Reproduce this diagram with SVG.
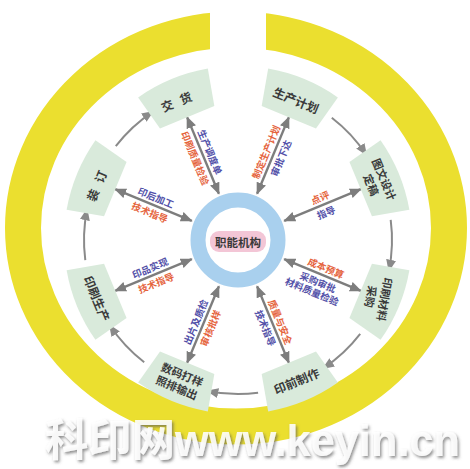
<svg xmlns="http://www.w3.org/2000/svg" xmlns:xlink="http://www.w3.org/1999/xlink" width="470" height="469" viewBox="0 0 470 469">
  <style>
    .node { fill: #d9eadb; }
    .nt { font-family: "Noto Sans CJK SC", "DejaVu Sans", sans-serif; font-size: 12px; font-weight: bold; fill: #3a3a3a; text-anchor: middle; dominant-baseline: central; }
    .nt2 { font-size: 11px; }
    .lbl { font-family: "Noto Sans CJK SC", sans-serif; font-size: 9.5px; font-weight: bold; text-anchor: middle; dominant-baseline: central; }
    .r { fill: #e5643d; }
    .b { fill: #5250a8; }
    .spoke { fill: none; stroke: #7d7d7d; stroke-width: 2.4; marker-start: url(#ah); marker-end: url(#ah); }
    .flow { fill: none; stroke: #8a8a8a; stroke-width: 2; marker-end: url(#ah2); }
    .wm { font-family: "Liberation Sans", "Noto Sans CJK SC", sans-serif; font-size: 44px; font-weight: bold; }
  </style>
  <defs>
    <marker id="ah" markerUnits="userSpaceOnUse" markerWidth="12" markerHeight="10" refX="11" refY="5" orient="auto-start-reverse">
      <path d="M0,0 L12,5 L0,10 Z" fill="#7d7d7d"/>
    </marker>
    <marker id="ah2" markerUnits="userSpaceOnUse" markerWidth="12" markerHeight="10" refX="11" refY="5" orient="auto">
      <path d="M0,0 L12,5 L0,10 Z" fill="#8a8a8a"/>
    </marker>
    <path id="ns" d="M200.3,70.1 A174,174 0 0 1 275.7,70.1 L267.4,107.2 L208.6,107.2 Z"/>
    <filter id="shadow" x="-10%" y="-30%" width="120%" height="170%">
      <feDropShadow dx="1.5" dy="2" stdDeviation="1.5" flood-color="#555555" flood-opacity="0.75"/>
    </filter>
  </defs>

  <rect x="0" y="0" width="470" height="469" fill="#ffffff"/>

  <!-- yellow ring -->
  <g id="ring">
    <ellipse cx="236" cy="228" rx="213" ry="198.5" fill="none" stroke="#ebdf2f" stroke-width="36"/>
    <rect x="210" y="0" width="56" height="62" fill="#ffffff"/>
  </g>

  <!-- connectors -->
  <g id="connectors">
    <path class="spoke" d="M218.9,193.8 L187.1,117.1"/>
    <path class="spoke" d="M257.1,193.8 L288.9,117.1"/>
    <path class="spoke" d="M284.2,220.9 L360.9,189.1"/>
    <path class="spoke" d="M284.2,259.1 L360.9,290.9"/>
    <path class="spoke" d="M257.1,286.2 L288.9,362.9"/>
    <path class="spoke" d="M218.9,286.2 L187.1,362.9"/>
    <path class="spoke" d="M191.8,259.1 L115.1,290.9"/>
    <path class="spoke" d="M191.8,220.9 L115.1,189.1"/>

    <path class="flow" d="M331.8,117.8 A154,154 0 0 1 366.4,155.0"/>
    <path class="flow" d="M390.7,219.9 A154,154 0 0 1 388.9,270.7"/>
    <path class="flow" d="M360.2,333.8 A154,154 0 0 1 323.0,368.4"/>
    <path class="flow" d="M258.1,392.7 A154,154 0 0 1 207.3,390.9"/>
    <path class="flow" d="M144.2,362.2 A154,154 0 0 1 109.6,325.0"/>
    <path class="flow" d="M85.3,260.1 A154,154 0 0 1 87.1,209.3"/>
    <path class="flow" d="M115.8,146.2 A154,154 0 0 1 153.0,111.6"/>

    <g transform="translate(202.8,155.0) rotate(67.5)">
      <text class="lbl b" x="0" y="-8">生产调度单</text>
      <text class="lbl r" x="0" y="8">印刷质量检验</text>
    </g>
    <g transform="translate(273.2,155.0) rotate(-67.5)">
      <text class="lbl r" x="0" y="-8">制定生产计划</text>
      <text class="lbl b" x="0" y="8">审批下达</text>
    </g>
    <g transform="translate(323.0,204.8) rotate(-22.5)">
      <text class="lbl r" x="0" y="-8">点评</text>
      <text class="lbl b" x="0" y="8">指导</text>
    </g>
    <g transform="translate(323.0,275.2) rotate(22.5)">
      <text class="lbl r" x="0" y="-8">成本预算</text>
      <text class="lbl b" x="-2" y="8">采购审批</text>
      <text class="lbl b" x="-4" y="19">材料质量检验</text>
    </g>
    <g transform="translate(273.2,325.0) rotate(67.5)">
      <text class="lbl r" x="0" y="-8">质量与安全</text>
      <text class="lbl b" x="0" y="8">技术指导</text>
    </g>
    <g transform="translate(202.8,325.0) rotate(-67.5)">
      <text class="lbl b" x="0" y="-8">出片及质检</text>
      <text class="lbl r" x="0" y="8">审核批样</text>
    </g>
    <g transform="translate(153.0,275.2) rotate(-22.5)">
      <text class="lbl b" x="0" y="-8">印品实现</text>
      <text class="lbl r" x="0" y="8">技术指导</text>
    </g>
    <g transform="translate(153.0,204.8) rotate(22.5)">
      <text class="lbl b" x="0" y="-8">印后加工</text>
      <text class="lbl r" x="0" y="8">技术指导</text>
    </g>
  </g>

  <!-- center -->
  <g id="center">
    <circle cx="238" cy="240" r="40" fill="none" stroke="#a9d0ee" stroke-width="15"/>
    <rect x="210" y="231" width="56" height="21" rx="9" fill="#f3c6d6"/>
    <text class="nt" x="238" y="241.5" style="font-size:11.5px">职能机构</text>
  </g>

  <!-- nodes -->
  <g id="n-jiaohuo">
    <use xlink:href="#ns" class="node" transform="rotate(-22.5 238 240)"/>
    <text class="nt" transform="translate(179.8,99.6) rotate(-22.5)" letter-spacing="8">交货</text>
  </g>
  <g id="n-plan">
    <use xlink:href="#ns" class="node" transform="rotate(22.5 238 240)"/>
    <text class="nt" transform="translate(296.2,99.6) rotate(22.5)">生产计划</text>
  </g>
  <g id="n-design">
    <use xlink:href="#ns" class="node" transform="rotate(67.5 238 240)"/>
    <g transform="translate(378.4,181.8) rotate(67.5)">
      <text class="nt nt2" x="0" y="-7">图文设计</text>
      <text class="nt nt2" x="0" y="7">定稿</text>
    </g>
  </g>
  <g id="n-material">
    <use xlink:href="#ns" class="node" transform="rotate(112.5 238 240)"/>
    <g transform="translate(378.4,298.2) rotate(100)">
      <text class="nt nt2" x="0" y="-7">印刷材料</text>
      <text class="nt nt2" x="0" y="7">采购</text>
    </g>
  </g>
  <g id="n-prepress">
    <use xlink:href="#ns" class="node" transform="rotate(157.5 238 240)"/>
    <text class="nt" transform="translate(296.2,380.4) rotate(-22.5)">印前制作</text>
  </g>
  <g id="n-proof">
    <use xlink:href="#ns" class="node" transform="rotate(202.5 238 240)"/>
    <g transform="translate(179.8,380.4) rotate(22.5)">
      <text class="nt nt2" x="0" y="-7">数码打样</text>
      <text class="nt nt2" x="0" y="7">照排输出</text>
    </g>
  </g>
  <g id="n-print">
    <use xlink:href="#ns" class="node" transform="rotate(247.5 238 240)"/>
    <text class="nt" transform="translate(97.6,298.2) rotate(67.5)">印刷生产</text>
  </g>
  <g id="n-bind">
    <use xlink:href="#ns" class="node" transform="rotate(292.5 238 240)"/>
    <text class="nt" transform="translate(97.6,181.8) rotate(-67.5)" letter-spacing="8">装订</text>
  </g>

  <!-- watermark -->
  <g id="watermark">
    <text class="wm" x="45" y="456" textLength="415" lengthAdjust="spacingAndGlyphs" fill="#ffffff" fill-opacity="0.88" filter="url(#shadow)">科印网www.keyin.cn</text>
  </g>
</svg>
